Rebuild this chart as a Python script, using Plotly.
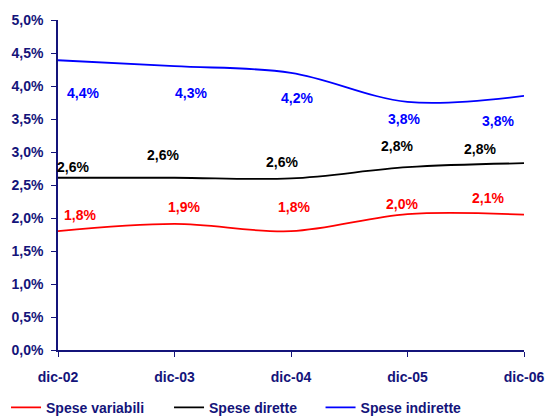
import plotly.graph_objects as go

periodi = ["dic-02", "dic-03", "dic-04", "dic-05", "dic-06"]

spese_variabili = [1.80, 1.91, 1.80, 2.06, 2.05]
spese_dirette = [2.61, 2.61, 2.60, 2.77, 2.83]
spese_indirette = [4.39, 4.30, 4.20, 3.76, 3.85]

etichette_variabili = ["1,8%", "1,9%", "1,8%", "2,0%", "2,1%"]
etichette_dirette = ["2,6%", "2,6%", "2,6%", "2,8%", "2,8%"]
etichette_indirette = ["4,4%", "4,3%", "4,2%", "3,8%", "3,8%"]

NAVY = "#14147a"
FONT = "Liberation Sans"

series = [
    ("Spese variabili", spese_variabili, etichette_variabili, "#ff0000",
     [(22, -16), (9, -17), (3, -24), (-6, -10), (-36, -17)], "legend", 0.011),
    ("Spese dirette", spese_dirette, etichette_dirette, "#000000",
     [(15, -11), (-12, -23), (-9, -16), (-11, -21), (-44, -14)], "legend2", 0.309),
    ("Spese indirette", spese_indirette, etichette_indirette, "#0000ff",
     [(25, 33), (16, 27), (6, 25), (-4, 17), (-26, 25)], "legend3", 0.586),
]

fig = go.Figure()
annotations = []
legends = {}
for name, vals, labels, color, shifts, leg, lx in series:
    fig.add_trace(go.Scatter(
        x=periodi, y=vals, name=name, mode="lines", legend=leg,
        line=dict(color=color, width=1.8, shape="spline", smoothing=1.0),
    ))
    for p, v, t, (dx, dy) in zip(periodi, vals, labels, shifts):
        annotations.append(dict(
            x=p, y=v, text=t, showarrow=False, xshift=dx, yshift=-dy,
            font=dict(color=color, size=14, family=FONT, weight="bold"),
        ))
    legends[leg] = dict(
        orientation="h", xref="container", x=lx, xanchor="left",
        yref="container", y=0.022, yanchor="middle",
        font=dict(size=14, color=NAVY, family=FONT, weight="bold"),
        itemwidth=30, bgcolor="rgba(0,0,0,0)",
    )

fig.update_layout(
    width=547, height=417,
    margin=dict(l=58, r=23, t=20, b=67),
    plot_bgcolor="white", paper_bgcolor="white",
    separators=",.",
    font=dict(family=FONT, size=13, color=NAVY, weight="bold"),
    annotations=annotations,
    showlegend=True,
    **legends,
)
fig.update_xaxes(
    range=[0, 4], showline=True, linecolor=NAVY, linewidth=1.5,
    ticks="outside", ticklen=5, tickcolor=NAVY, showgrid=False,
    ticklabelstandoff=8, automargin=False,
    tickfont=dict(size=14, color=NAVY, family=FONT, weight="bold"),
)
fig.update_yaxes(
    range=[0, 5], dtick=0.5, tickformat=".1f", ticksuffix="%",
    showline=True, linecolor=NAVY, linewidth=1.5,
    ticks="outside", ticklen=5, tickcolor=NAVY, showgrid=False, zeroline=False,
    ticklabelstandoff=5, automargin=False,
    tickfont=dict(size=14, color=NAVY, family=FONT, weight="bold"),
)

# drop the default body margin so the figure fills the window exactly
fig.write_html("out.html", config={"displayModeBar": False},
               post_script="document.body.style.margin='0';")
